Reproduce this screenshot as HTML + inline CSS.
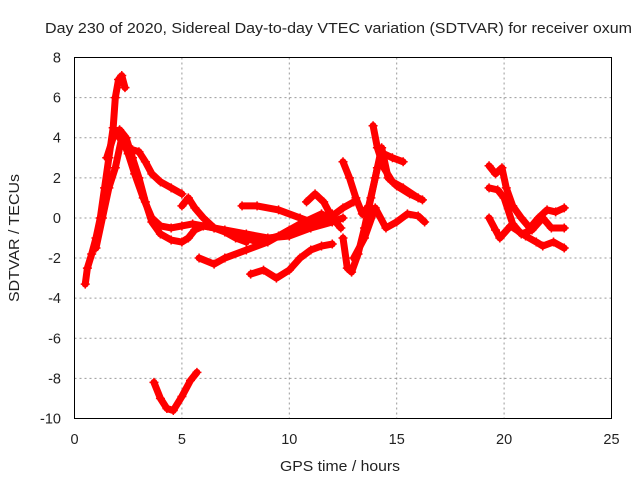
<!DOCTYPE html>
<html><head><meta charset="utf-8">
<style>
body{margin:0;background:#fff;}
svg text{font-family:"Liberation Sans",sans-serif;font-size:14.5px;fill:#222;}
</style></head>
<body>
<svg id="chart" width="640" height="480" xmlns="http://www.w3.org/2000/svg">
<rect x="0" y="0" width="640" height="480" fill="#fff"/>
<text x="45" y="33" textLength="587" lengthAdjust="spacingAndGlyphs">Day 230 of 2020, Sidereal Day-to-day VTEC variation (SDTVAR) for receiver oxum</text>
<g id="grid"></g>
<g id="ticks"></g>
<g id="marks"></g>
<rect x="74.5" y="57.5" width="537" height="361" fill="none" stroke="#000" stroke-width="1"/>
<text x="280" y="471" textLength="120" lengthAdjust="spacingAndGlyphs">GPS time / hours</text>
<text transform="translate(19,302) rotate(-90)" textLength="128" lengthAdjust="spacingAndGlyphs">SDTVAR / TECUs</text>
</svg>
<script>
const xTicks=[0,5,10,15,20,25];
const yTicks=[8,6,4,2,0,-2,-4,-6,-8,-10];
const t1=[[0.5,-3.3],[0.6,-2.5],[0.8,-1.8],[1.0,-1],[1.2,0],[1.4,1.5],[1.6,3],[1.8,4.5],[1.9,6],[2.05,6.9],[2.2,7.1],[2.35,6.5]];
const t2=[[1.5,3],[1.8,4],[2.1,4.4],[2.4,4],[2.7,3],[3.0,2],[3.3,0.8],[3.6,-0.2],[4.0,-0.8],[4.5,-1.1],[5.0,-1.2],[5.3,-1.0],[5.6,-0.6],[6.0,-0.4],[7,-0.6],[8,-0.8],[9,-1],[10,-0.9],[11,-0.5],[12,-0.2],[12.5,0]];
const t3=[[1.0,-1.5],[1.3,0],[1.6,1.5],[1.9,2.5],[2.2,4.0],[2.5,3.2],[2.8,2.2],[3.2,1.0],[3.6,0.0],[4.0,-0.4],[4.5,-0.5],[5.0,-0.4],[5.5,-0.3],[6.5,-0.5],[7.5,-0.8],[8.5,-1.2],[9.5,-0.9],[10.5,-0.3],[11.5,0.2],[12.2,-0.2]];
const t4=[[2.0,4.2],[2.3,3.6],[2.7,3.4],[3.0,3.3],[3.3,2.8],[3.6,2.2],[4.0,1.8],[4.5,1.5],[5.0,1.2]];
const t5=[[5.0,0.6],[5.3,1.0],[5.6,0.5],[6.0,0],[6.5,-0.5],[7.0,-0.7],[7.5,-1.0],[8,-1.2]];
const t6=[[5.8,-2.0],[6.5,-2.3],[7.0,-2.0],[8,-1.6],[9,-1.2],[10,-0.6],[11,-0.3],[12,0.1],[12.5,0.5],[13,0.8]];
const t7=[[7.8,0.6],[8.5,0.6],[9.5,0.4],[10.5,0],[11,-0.2],[11.5,0],[12,0.2]];
const t8=[[8.2,-2.8],[8.8,-2.6],[9.4,-3.0],[10,-2.6],[10.5,-2.0],[11.0,-1.6],[11.5,-1.4],[12,-1.3]];
const t9=[[10.8,0.8],[11.2,1.2],[11.6,0.8],[12,0],[12.4,-0.5]];
const t10=[[12.5,-1],[12.7,-2.5],[12.9,-2.7],[13.2,-1.8],[13.5,-0.5],[13.8,1.0],[14.1,2.5],[14.4,3.2],[14.8,3.0],[15.3,2.8]];
const t11=[[12.5,2.8],[12.8,2.0],[13.1,1.0],[13.4,0.2],[13.7,0.6],[14.0,2.0],[14.3,3.5],[14.6,2.0],[15,1.6],[15.6,1.2],[16.2,0.9]];
const t12=[[13.9,4.6],[14.1,3.5],[14.4,2.5],[14.8,1.8],[15.3,1.5],[16,1.0]];
const t13=[[13,-2],[13.5,-1],[14,0.5],[14.5,-0.5],[15,-0.2],[15.5,0.2],[16,0.1],[16.3,-0.2]];
const t14=[[3.7,-8.2],[4.0,-9.0],[4.3,-9.5],[4.6,-9.6],[5.0,-8.9],[5.4,-8.1],[5.7,-7.7]];
const t15=[[19.3,2.6],[19.6,2.2],[19.9,2.5],[20.1,1.5],[20.4,0.6],[20.8,0],[21.2,-0.5],[21.6,0.0],[22,0.4],[22.4,0.3],[22.8,0.5]];
const t16=[[19.3,1.5],[19.7,1.4],[20.0,1.0],[20.4,-0.3],[20.8,-0.8],[21.3,-0.6],[21.8,0],[22.2,-0.5],[22.8,-0.5]];
const t17=[[19.3,0],[19.6,-0.6],[19.8,-1.0],[20.3,-0.4],[21,-0.9],[21.5,-1.2],[21.8,-1.4],[22.3,-1.2],[22.8,-1.5]];
const tracks=[t1,t2,t3,t4,t5,t6,t7,t8,t9,t10,t11,t12,t13,t14,t15,t16,t17];

const NS="http://www.w3.org/2000/svg";
const X0=74.5,X1=611.5,Y0=418.5,Y1=57.5;
function sx(v){return X0+(v-0)/(25-0)*(X1-X0);}
function sy(v){return Y0-(v-(-10))/(8-(-10))*(Y0-Y1);}
function mk(tag,attrs,parent){const e=document.createElementNS(NS,tag);for(const k in attrs)e.setAttribute(k,attrs[k]);parent.appendChild(e);return e;}
const grid=document.getElementById('grid'),ticks=document.getElementById('ticks'),marks=document.getElementById('marks');
xTicks.forEach(v=>{
  const x=sx(v);
  if(v>0&&v<25){const l=mk('line',{x1:x,x2:x,y1:Y1,y2:Y0,stroke:'#999','stroke-dasharray':'2,3'},grid);
  
  }
  const t=mk('text',{x:x,y:444,'text-anchor':'middle'},ticks);t.textContent=v;
  
  
});
yTicks.forEach(v=>{
  const y=sy(v);
  if(v<8&&v>-10){const l=mk('line',{x1:X0,x2:X1,y1:y,y2:y,stroke:'#999','stroke-dasharray':'2,3'},grid);
  
  }
  const t=mk('text',{x:61,y:y+5,'text-anchor':'end'},ticks);t.textContent=v;
  
  
});
tracks.forEach((tr,i)=>{
  const p=mk('polyline',{points:tr.map(d=>sx(d[0])+','+sy(d[1])).join(' '),fill:'none',stroke:'#f00','stroke-width':7,'stroke-linejoin':'round','stroke-linecap':'round'},marks);
  
  
  tr.forEach(d=>{
    const x=sx(d[0]),y=sy(d[1]);
    const m=mk('path',{d:`M${x-4.5},${y}H${x+4.5}M${x},${y-4.5}V${y+4.5}`,stroke:'#f00','stroke-width':1.5},marks);
    
    
  });
});
</script>
</body></html>
